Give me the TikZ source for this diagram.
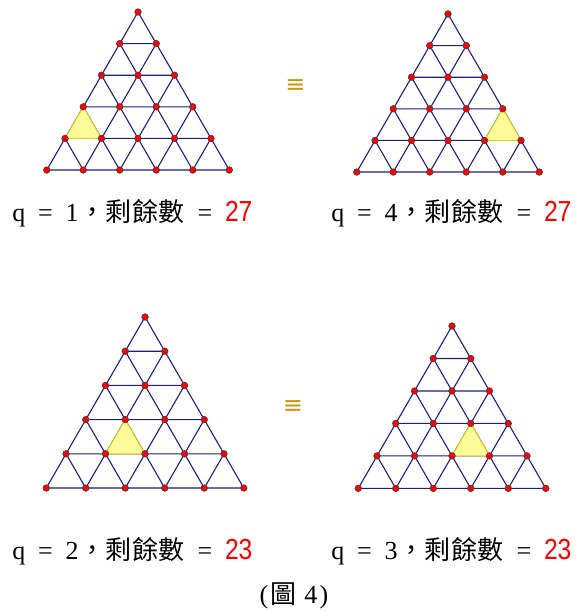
\documentclass[tikz,border=0pt]{standalone}
\usepackage{fontspec}
\setmainfont{Liberation Serif}
\newfontfamily\cjk{Noto Sans CJK TC}
\newfontfamily\symfont{DejaVu Sans}
\newfontfamily\numfont[FakeStretch=0.85]{Liberation Sans}
\usetikzlibrary{positioning}
\definecolor{gridblue}{HTML}{1C1C8E}
\definecolor{eqgold}{HTML}{C8960C}
\tikzstyle{edge} = [draw=gridblue, line width=1.1pt, line join=round]
\tikzstyle{dot} = [fill=red, draw=black!75, line width=0.6pt]
\tikzstyle{hilite} = [fill=yellow!40, draw=yellow!85!black, line width=1pt, line join=round]
\tikzstyle{caption} = [anchor=base west, inner sep=0pt, font=\fontsize{26}{30}\selectfont]
\tikzstyle{equiv} = [text=eqgold, inner sep=0pt, font=\symfont\fontsize{24}{28}\selectfont]

% triangular grid: name, apex x, apex y, small side, q
\newcommand\trigrid[5]{
  \foreach \i in {0,...,5} {
    \foreach \j in {0,...,\i} {
      \coordinate (#1-\i-\j) at ({#2+(\j-\i/2)*#4}, {#3+\i*#4*0.866});
    }
  }
  \foreach \i [evaluate=\i as \k using int(\i+1)] in {0,...,4} {
    \foreach \j [evaluate=\j as \m using int(\j+1)] in {0,...,\i} {
      \draw [edge] (#1-\i-\j) -- (#1-\k-\j) -- (#1-\k-\m) -- cycle;
    }
  }
  \pgfmathtruncatemacro\qa{#5-1}
  \filldraw [hilite] (#1-3-\qa) -- (#1-4-\qa) -- (#1-4-#5) -- cycle;
  \foreach \i in {0,...,5} {
    \foreach \j in {0,...,\i} {
      \filldraw [dot] (#1-\i-\j) circle (3.3pt);
    }
  }
}
% half- and full-width cells
\newcommand\hw[1]{\makebox[13.3pt]{#1}}
\newcommand\fw[1]{\makebox[26.6pt]{\cjk #1}}
\newcommand\rest[2]{\hw{q}\hw{}\hw{=}\hw{}\hw{#1}\fw{，}\fw{剩}\fw{餘}\fw{數}\hw{}\hw{=}\hw{}%
  \textcolor{red}{\numfont\fontsize{29}{32}\selectfont #2}}

\begin{document}
\begin{tikzpicture}[x=1pt, y=-1pt]
    \useasboundingbox (0,0) rectangle (576,612);

    \trigrid{ga}{138}{12}{36.5}{1}
    \trigrid{gb}{448}{14}{36.5}{4}
    \trigrid{gc}{145}{317}{39.5}{2}
    \trigrid{gd}{452}{326}{37.5}{3}

    \node [equiv] (eqtop) at (295.5,86) {≡};
    \node [equiv] (eqbot) at (293,407.5) {≡};

    \node [caption] (capa) at (12,222) {\rest{1}{27}};
    \node [caption] (capb) at (331,222) {\rest{4}{27}};
    \node [caption] (capc) at (12,559) {\rest{2}{23}};
    \node [caption] (capd) at (331,559) {\rest{3}{23}};
    \node [caption] (fig) at (257,603) {\hw{(}\fw{圖}\makebox[7pt]{}\hw{4}\hw{)}};
  \end{tikzpicture}
\end{document}
